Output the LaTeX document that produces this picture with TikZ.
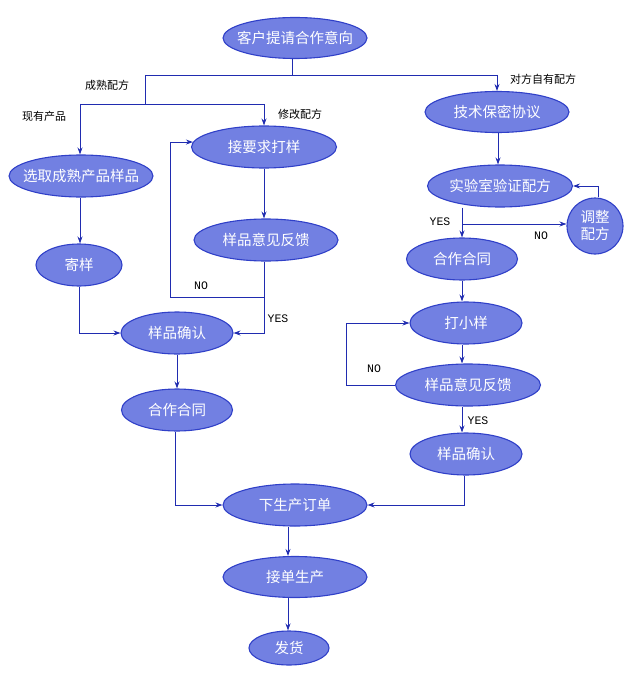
\documentclass[tikz,border=0pt]{standalone}
\usepackage{fontspec}
\newfontfamily\cjk{Noto Sans CJK SC}
\newfontfamily\lblmono{Liberation Mono}
\usetikzlibrary{shapes.geometric,arrows.meta}
\definecolor{nodefill}{RGB}{114,128,226}
\definecolor{nodeline}{RGB}{48,64,200}
\definecolor{conn}{RGB}{32,44,176}
\newcommand\nt[1]{\makebox[0pt]{#1}}
\tikzset{
  oval/.style={ellipse, draw=nodeline, fill=nodefill, line width=1.1pt, inner sep=0pt,
    text=white, font=\cjk\fontsize{14.5}{16}\selectfont},
  rnd/.style={circle, draw=nodeline, fill=nodefill, line width=1.1pt, inner sep=0pt,
    text=white, font=\cjk\fontsize{14.5}{17}\selectfont, align=center, minimum size=56pt},
  conn/.style={draw=conn, line width=0.9pt, -{Stealth[length=7pt,width=5pt]}},
  plain/.style={draw=conn, line width=0.9pt},
  lbl/.style={font=\cjk\fontsize{11}{12}\selectfont, inner sep=0pt},
  yn/.style={font=\lblmono\fontsize{11.5}{12}\selectfont, inner sep=0pt}
}
\begin{document}
\begin{tikzpicture}[x=1pt,y=-1pt]
\useasboundingbox (0,0) rectangle (628,674);
% nodes
\node[oval, minimum width=144pt, minimum height=41pt] (n1) at (295,38) {\nt{客户提请合作意向}};
\node[oval, minimum width=144pt, minimum height=41pt] (jm) at (497,112) {\nt{技术保密协议}};
\node[oval, minimum width=145pt, minimum height=42pt] (sy) at (500,186) {\nt{实验室验证配方}};
\node[rnd] (tz) at (595,226) {调整\\配方};
\node[oval, minimum width=111pt, minimum height=42pt] (ht2) at (462,259) {\nt{合作合同}};
\node[oval, minimum width=112pt, minimum height=42pt] (dx) at (466,323) {\nt{打小样}};
\node[oval, minimum width=145pt, minimum height=42pt] (fk2) at (468,385) {\nt{样品意见反馈}};
\node[oval, minimum width=112pt, minimum height=42pt] (qr2) at (466,454) {\nt{样品确认}};
\node[oval, minimum width=145pt, minimum height=42pt] (jy) at (264,147) {\nt{接要求打样}};
\node[oval, minimum width=144pt, minimum height=42pt] (fk1) at (266,240) {\nt{样品意见反馈}};
\node[oval, minimum width=144pt, minimum height=42pt] (xq) at (81,176) {\nt{选取成熟产品样品}};
\node[oval, minimum width=86pt, minimum height=42pt] (js) at (79,265) {\nt{寄样}};
\node[oval, minimum width=112pt, minimum height=42pt] (qr1) at (177,333) {\nt{样品确认}};
\node[oval, minimum width=111pt, minimum height=42pt] (ht1) at (177,410) {\nt{合作合同}};
\node[oval, minimum width=144pt, minimum height=42pt] (xd) at (295,505) {\nt{下生产订单}};
\node[oval, minimum width=144pt, minimum height=41pt] (jd) at (295,577) {\nt{接单生产}};
\node[oval, minimum width=80pt, minimum height=34pt] (fh) at (289,648) {\nt{发货}};
% junction coordinates
\coordinate (j1) at (292,75);
\coordinate (jL) at (145,75);
\coordinate (jR) at (497,75);
\coordinate (j2) at (145,104);
\coordinate (j2L) at (80,104);
\coordinate (j2R) at (264,104);
\coordinate (p1) at (264,297);
\coordinate (lp) at (170,297);
\coordinate (p2) at (462,224);
\coordinate (lp2) at (346,385);
\coordinate (tzup) at (598,186);
% connectors
\draw[plain] (j1 |- n1.south) -- (j1);
\draw[plain] (jL) -- (jR);
\draw[conn] (jR) -- (jR |- jm.north);
\draw[plain] (jL) -- (j2);
\draw[plain] (j2L) -- (j2R);
\draw[conn] (j2L) -- (j2L |- xq.north);
\draw[conn] (j2R) -- (jy.north);
\draw[conn] (xq.south -| j2L) -- (js.north -| j2L);
\draw[conn] (jy.south) -- (jy.south |- fk1.north);
\draw[plain] (jy.south |- fk1.south) -- (p1);
\draw[conn] (p1) |- (qr1.east);
\draw[conn] (p1) -- (lp) |- (jy.176);
\draw[conn] (js.south) |- (qr1.west);
\draw[conn] (qr1.south -| ht1) -- (ht1.north);
\draw[conn] (ht1.south -| 175,0) |- (xd.west);
\draw[conn] (qr2.south -| 464,0) |- (xd.east);
\draw[conn] (xd.south -| 288,0) -- (jd.north -| 288,0);
\draw[conn] (jd.south -| 288,0) -- (fh.north -| 288,0);
\draw[conn] (jm.south -| 498,0) -- (sy.north -| 498,0);
\draw[conn] (sy.south -| p2) -- (ht2.north);
\draw[conn] (p2) -- (tz.west |- p2);
\draw[conn] (tzup |- tz.north) -- (tzup) -- (sy.east);
\draw[conn] (ht2.south) -- (ht2.south |- dx.north);
\draw[conn] (dx.south -| ht2) -- (fk2.north -| ht2);
\draw[conn] (fk2.west) -- (lp2) |- (dx.west);
\draw[conn] (fk2.south -| ht2) -- (qr2.north -| ht2);
% labels
\node[lbl] (l1) at (107,85) {成熟配方};
\node[lbl] (l2) at (44,116) {现有产品};
\node[lbl] (l3) at (300,114) {修改配方};
\node[lbl] (l4) at (543,79) {对方自有配方};
\node[yn] (y1) at (201,286) {NO};
\node[yn] (y2) at (278,319) {YES};
\node[yn] (y3) at (440,222) {YES};
\node[yn] (y4) at (541,236) {NO};
\node[yn] (y5) at (374,369) {NO};
\node[yn] (y6) at (478,421) {YES};
\end{tikzpicture}
\end{document}
